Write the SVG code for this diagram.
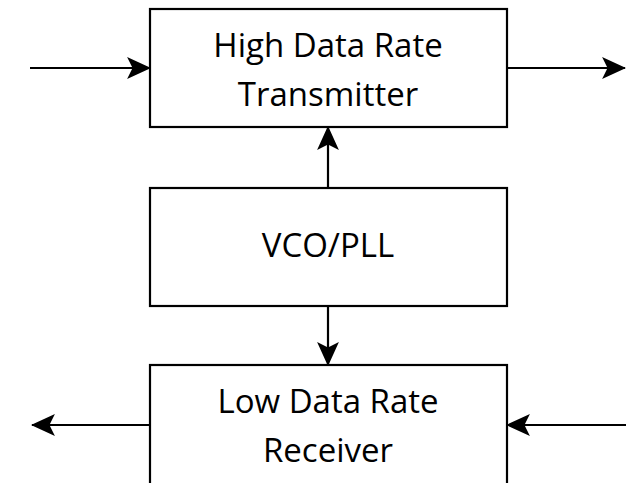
<svg xmlns="http://www.w3.org/2000/svg" width="638" height="483" viewBox="0 0 638 483">
<style>
.box{fill:#fff;stroke:#000;stroke-width:2.2}
.lbl{font-family:"Open Sans","Noto Sans",sans-serif;font-size:33px;fill:#000;text-anchor:middle}
.conn{stroke:#000;stroke-width:2.2;fill:none;marker-end:url(#ah)}
</style>
<defs>
<marker id="ah" markerUnits="userSpaceOnUse" markerWidth="24" markerHeight="22" viewBox="0 0 22 20" refX="21" refY="10" orient="auto">
<path d="M0,0 L22,10 L0,20 L5,10 Z" fill="#000"/>
</marker>
</defs>
<rect width="638" height="483" fill="#fff"/>
<g id="transmitter">
<rect class="box" x="150" y="9" width="357" height="118"/>
<text class="lbl" x="328" y="57">High Data Rate</text>
<text class="lbl" x="328" y="106">Transmitter</text>
</g>
<g id="vco">
<rect class="box" x="150" y="188" width="357" height="118"/>
<text class="lbl" x="328" y="257">VCO/PLL</text>
</g>
<g id="receiver">
<rect class="box" x="150" y="365" width="357" height="130"/>
<text class="lbl" x="328" y="413">Low Data Rate</text>
<text class="lbl" x="328" y="462">Receiver</text>
</g>
<g id="connectors">
<line class="conn" x1="30" y1="68" x2="150" y2="68"/>
<line class="conn" x1="507" y1="68" x2="625" y2="68"/>
<line class="conn" x1="328" y1="188" x2="328" y2="127"/>
<line class="conn" x1="328" y1="306" x2="328" y2="365"/>
<line class="conn" x1="150" y1="425" x2="32" y2="425"/>
<line class="conn" x1="626" y1="425" x2="507" y2="425"/>
</g>
</svg>
